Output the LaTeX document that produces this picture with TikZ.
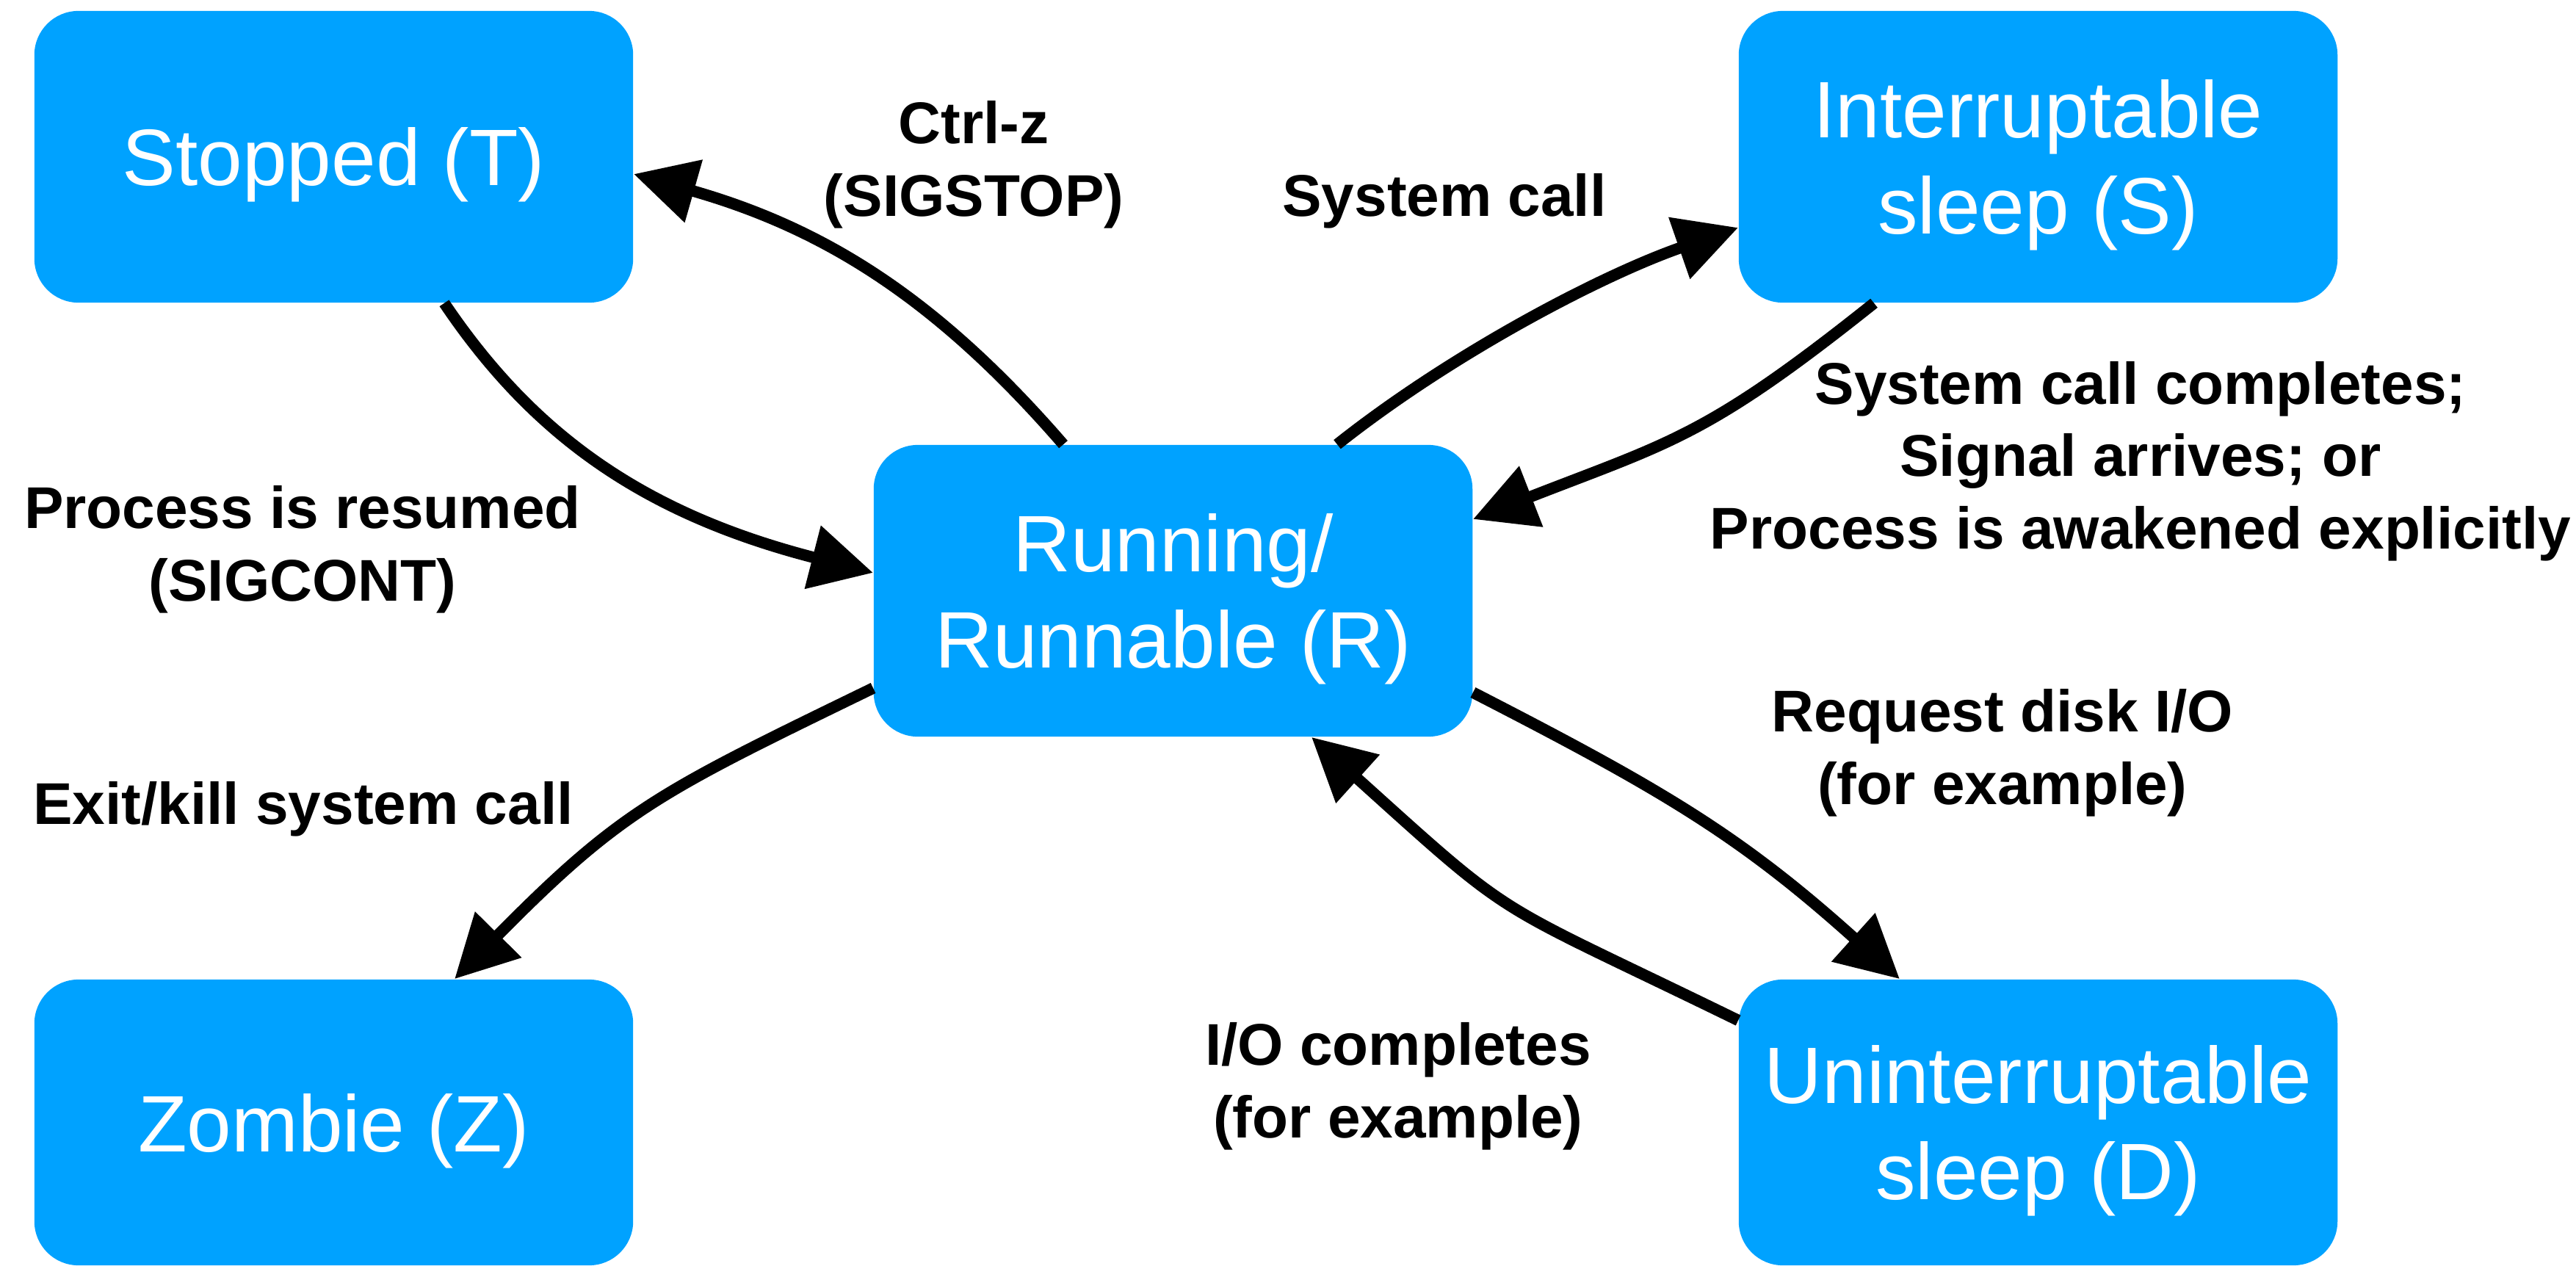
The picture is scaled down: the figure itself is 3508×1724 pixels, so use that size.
\documentclass[tikz,border=0pt]{standalone}
\usepackage{fontspec}
\setmainfont{Liberation Sans}
\usetikzlibrary{arrows.meta,calc}
\definecolor{boxblue}{RGB}{0,162,255}
\begin{document}
\begin{tikzpicture}[x=0.01cm,y=-0.01cm,
  state/.style={fill=boxblue, rounded corners=0.6cm, minimum width=8.15cm,
    minimum height=3.97cm, inner sep=0pt, align=center, text=white,
    text depth=0pt, font=\fontsize{31}{37}\selectfont},
  lbl/.style={align=center, anchor=base, inner sep=0pt,
    font=\fontsize{22.8}{27.9}\selectfont\bfseries},
  arr/.style={line width=0.155cm, -{Triangle[length=0.85cm,width=0.85cm]}}]
\fill[white] (0,0) rectangle (3508,1724);
\useasboundingbox (0,0) rectangle (3508,1724);

\node[state] (T) at (454.5,213.5) {Stopped (T)};
\node[state] (S) at (2775.5,213.5) {Interruptable\\sleep (S)};
\node[state] (R) at (1597.5,804.5) {Running/\\Runnable (R)};
\node[state, minimum height=3.89cm] (Z) at (454.5,1528.5) {Zombie (Z)};
\node[state, minimum height=3.89cm] (D) at (2775.5,1528.5) {Uninterruptable\\sleep (D)};

\draw[arr] ($(R.north)+(-149.5,0)$) .. controls +(-175,-202) and +(256,73) .. ($(T.east)+(0,23.5)$);
\draw[arr] ($(T.south)+(150.5,0)$) .. controls +(122,181) and +(-311,-80) .. ($(R.west)+(0,-24.5)$);
\draw[arr] ($(R.north)+(223.5,0)$) .. controls +(155,-123) and +(-187,65) .. ($(S.west)+(0,96.5)$);
\draw[arr] ($(S.south)+(-223.5,0)$) .. controls +(-228,182) and +(269,-105) .. ($(R.east)+(0,-97.5)$);
\draw[arr] ($(R.west)+(0,132.5)$) .. controls +(-290,141) and +(228,-231) .. ($(Z.north)+(164.5,0)$);
\draw[arr] ($(R.east)+(0,138.5)$) .. controls +(259,133) and +(-217,-195) .. ($(D.north)+(-188.5,0)$);
\draw[arr] ($(D.west)+(0,-139)$) .. controls +(-344,-168) and +(285,257) .. ($(R.south)+(188.5,0)$);

\node[lbl] (l1) at (1326,294) {Ctrl-z\\(SIGSTOP)};
\node[lbl] (l2) at (1967,294) {System call};
\node[lbl] (l3) at (2915,747) {System call completes;\\Signal arrives; or\\Process is awakened explicitly};
\node[lbl] (l4) at (412,818) {Process is resumed\\(SIGCONT)};
\node[lbl] (l5) at (413,1122) {Exit/kill system call};
\node[lbl] (l6) at (2727,1095) {Request disk I/O\\(for example)};
\node[lbl] (l7) at (1904,1549) {I/O completes\\(for example)};
\end{tikzpicture}
\end{document}
